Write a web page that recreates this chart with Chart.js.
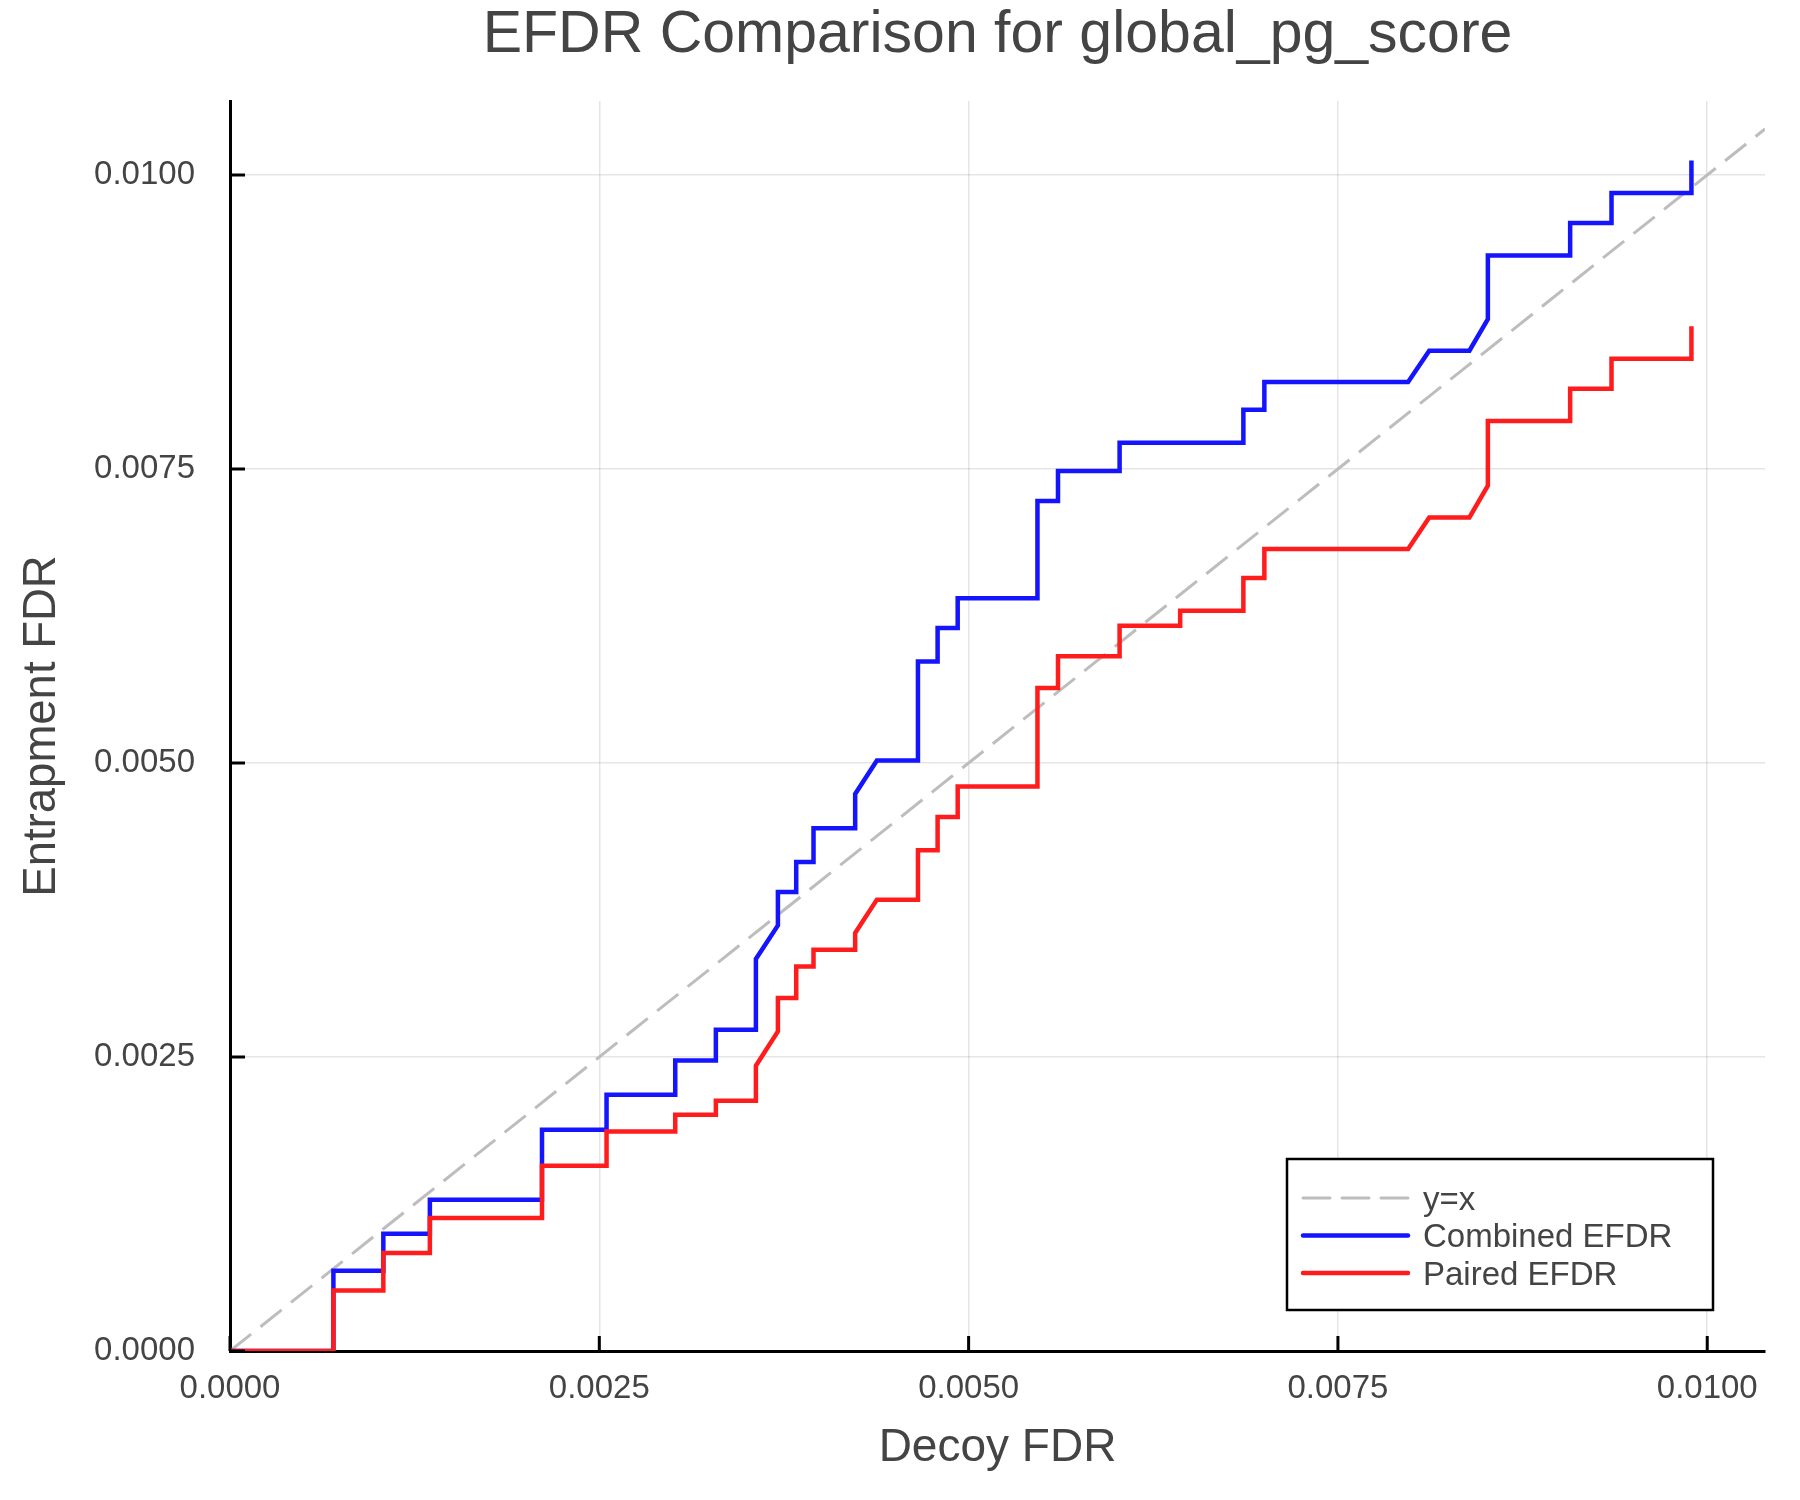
<!DOCTYPE html>
<html>
<head>
<meta charset="utf-8">
<script src="https://cdn.jsdelivr.net/npm/chart.js@4.4.1/dist/chart.umd.min.js"></script>
<style>
  html, body { margin: 0; padding: 0; background: #ffffff; }
  #wrap { width: 1800px; height: 1500px; }
</style>
</head>
<body>
<div id="wrap"><canvas id="c" width="1800" height="1500"></canvas></div>
<script>
// ---- data ----
const decoyFdr = [0, 0.00070, 0.00070, 0.001038, 0.001038, 0.001353, 0.001353, 0.002112, 0.002112, 0.002549, 0.002549,
  0.003014, 0.003014, 0.003289, 0.003289, 0.00356, 0.00356, 0.003709, 0.003709, 0.003833, 0.003833, 0.00395, 0.00395,
  0.004232, 0.004232, 0.004379, 0.004657, 0.004657, 0.00479, 0.00479, 0.004926, 0.004926, 0.005466, 0.005466,
  0.005605, 0.005605, 0.006022, 0.006022, 0.006432, 0.006432, 0.00686, 0.00686, 0.007002, 0.007002, 0.007975,
  0.008118, 0.00839, 0.008515, 0.008515, 0.009072, 0.009072, 0.009352, 0.009352, 0.009893, 0.009893];
const combinedEfdr = [0, 0, 0.000683, 0.000683, 0.000997, 0.000997, 0.001287, 0.001287, 0.001882, 0.001882, 0.002179,
  0.002179, 0.002471, 0.002471, 0.002732, 0.002732, 0.003333, 0.003619, 0.003903, 0.003903, 0.004158, 0.004158, 0.004444,
  0.004444, 0.004736, 0.005021, 0.005021, 0.005864, 0.005864, 0.006148, 0.006148, 0.0064, 0.0064, 0.007227,
  0.007227, 0.007483, 0.007483, 0.007723, 0.007723, 0.007723, 0.007723, 0.008004, 0.008004, 0.00824, 0.00824,
  0.008506, 0.008506, 0.008775, 0.009316, 0.009316, 0.009592, 0.009592, 0.009847, 0.009847, 0.010122];
const pairedEfdr = [0, 0, 0.000515, 0.000515, 0.000833, 0.000833, 0.001131, 0.001131, 0.001576, 0.001576, 0.001867,
  0.001867, 0.002009, 0.002009, 0.002128, 0.002128, 0.002426, 0.002718, 0.003002, 0.003002, 0.00327, 0.00327, 0.003412,
  0.003412, 0.003554, 0.003838, 0.003838, 0.004257, 0.004257, 0.004541, 0.004541, 0.0048, 0.0048, 0.005638,
  0.005638, 0.005907, 0.005907, 0.006168, 0.006168, 0.006295, 0.006295, 0.006573, 0.006573, 0.00682, 0.00682,
  0.007088, 0.007088, 0.007359, 0.007908, 0.007908, 0.008183, 0.008183, 0.008438, 0.008438, 0.008713];
const xTicks = [0, 0.0025, 0.005, 0.0075, 0.01];
const yTicks = [0, 0.0025, 0.005, 0.0075, 0.01];
const xTickLabels = ['0.0000', '0.0025', '0.0050', '0.0075', '0.0100'];
const yTickLabels = ['0.0000', '0.0025', '0.0050', '0.0075', '0.0100'];
const seriesNames = ['y=x', 'Combined EFDR', 'Paired EFDR'];
const titleText = 'EFDR Comparison for global_pg_score';
const xTitle = 'Decoy FDR';
const yTitle = 'Entrapment FDR';

// ---- chart ----
const X_MAX = 0.010391;
const Y_MAX = 0.010629;
const TEXT = '#444444';
const FONT = "'Liberation Sans', Arial, Helvetica, sans-serif";
Chart.defaults.font.family = FONT;
Chart.defaults.color = TEXT;

const toPts = (ys) => decoyFdr.map((x, i) => ({ x: x, y: ys[i] }));

const innerTicks = {
  id: 'innerTicks',
  afterDraw(chart) {
    const { ctx, chartArea: a, scales: { x, y } } = chart;
    ctx.save();
    ctx.strokeStyle = '#000';
    ctx.lineWidth = 3;
    ctx.beginPath();
    xTicks.forEach(v => { const p = x.getPixelForValue(v); ctx.moveTo(p, a.bottom); ctx.lineTo(p, a.bottom - 15); });
    yTicks.forEach(v => { const p = y.getPixelForValue(v); ctx.moveTo(a.left, p); ctx.lineTo(a.left + 15, p); });
    ctx.stroke();
    ctx.restore();
  }
};

const boxLegend = {
  id: 'boxLegend',
  afterDraw(chart) {
    const { ctx, chartArea: a } = chart;
    const bx = a.right - 478, by = a.bottom - 192, bw = 426, bh = 151;
    ctx.save();
    ctx.fillStyle = '#fff';
    ctx.fillRect(bx, by, bw, bh);
    ctx.strokeStyle = '#000';
    ctx.lineWidth = 2.5;
    ctx.strokeRect(bx, by, bw, bh);
    ctx.font = '33px ' + FONT;
    ctx.textBaseline = 'middle';
    ctx.textAlign = 'left';
    chart.data.datasets.forEach((ds, i) => {
      const cy = by + 39 + i * 37.5;
      ctx.beginPath();
      ctx.strokeStyle = ds.borderColor;
      ctx.lineWidth = ds.borderWidth;
      ctx.setLineDash(ds.borderDash || []);
      ctx.lineCap = 'round';
      ctx.moveTo(bx + 16, cy);
      ctx.lineTo(bx + 121, cy);
      ctx.stroke();
      ctx.setLineDash([]);
      ctx.fillStyle = TEXT;
      ctx.fillText(ds.label, bx + 136, cy + 2.5);
    });
    ctx.restore();
  }
};

new Chart(document.getElementById('c'), {
  type: 'scatter',
  data: {
    datasets: [
      {
        label: seriesNames[0],
        data: [{ x: 0, y: 0 }, { x: X_MAX, y: X_MAX }],
        showLine: true, borderColor: '#bdbdbd', borderWidth: 3, borderDash: [27, 12],
        pointRadius: 0, order: 2
      },
      {
        label: seriesNames[1],
        data: toPts(combinedEfdr),
        showLine: true, borderColor: '#1414ff', borderWidth: 4.5,
        pointRadius: 0, order: 1
      },
      {
        label: seriesNames[2],
        data: toPts(pairedEfdr),
        showLine: true, borderColor: '#ff1c1c', borderWidth: 4.5,
        pointRadius: 0, order: 0
      }
    ]
  },
  options: {
    responsive: false,
    animation: false,
    devicePixelRatio: 1,
    layout: { padding: { left: 0, right: 35, top: 0, bottom: 0 } },
    plugins: {
      legend: { display: false },
      tooltip: { enabled: false },
      title: {
        display: true, text: titleText, fullSize: false, color: TEXT,
        font: { size: 59, weight: 'normal', lineHeight: 1.0 },
        padding: { top: 6.5, bottom: 35.5 }
      }
    },
    scales: {
      x: {
        type: 'linear', min: 0, max: X_MAX,
        afterBuildTicks: (s) => { s.ticks = xTicks.map(v => ({ value: v })); },
        afterFit: (s) => { s.height = 149; },
        ticks: {
          padding: 18, color: TEXT, font: { size: 33 }, maxRotation: 0, autoSkip: false,
          callback: (v) => xTickLabels[xTicks.indexOf(v)] ?? ''
        },
        grid: { color: 'rgba(0,0,0,0.1)', lineWidth: 1.5, drawTicks: false },
        border: { display: true, color: '#000', width: 3 },
        title: { display: true, text: xTitle, color: TEXT, font: { size: 46 }, padding: { top: 0, bottom: 24 } }
      },
      y: {
        type: 'linear', min: 0, max: Y_MAX,
        afterBuildTicks: (s) => { s.ticks = yTicks.map(v => ({ value: v })); },
        afterFit: (s) => { s.width = 230; },
        ticks: {
          padding: 35, color: TEXT, font: { size: 33 }, autoSkip: false,
          callback: (v) => yTickLabels[yTicks.indexOf(v)] ?? ''
        },
        grid: { color: 'rgba(0,0,0,0.1)', lineWidth: 1.5, drawTicks: false },
        border: { display: true, color: '#000', width: 3 },
        title: { display: true, text: yTitle, color: TEXT, font: { size: 45.5 }, padding: { top: 15.5, bottom: 0 } }
      }
    }
  },
  plugins: [innerTicks, boxLegend]
});
</script>
</body>
</html>
